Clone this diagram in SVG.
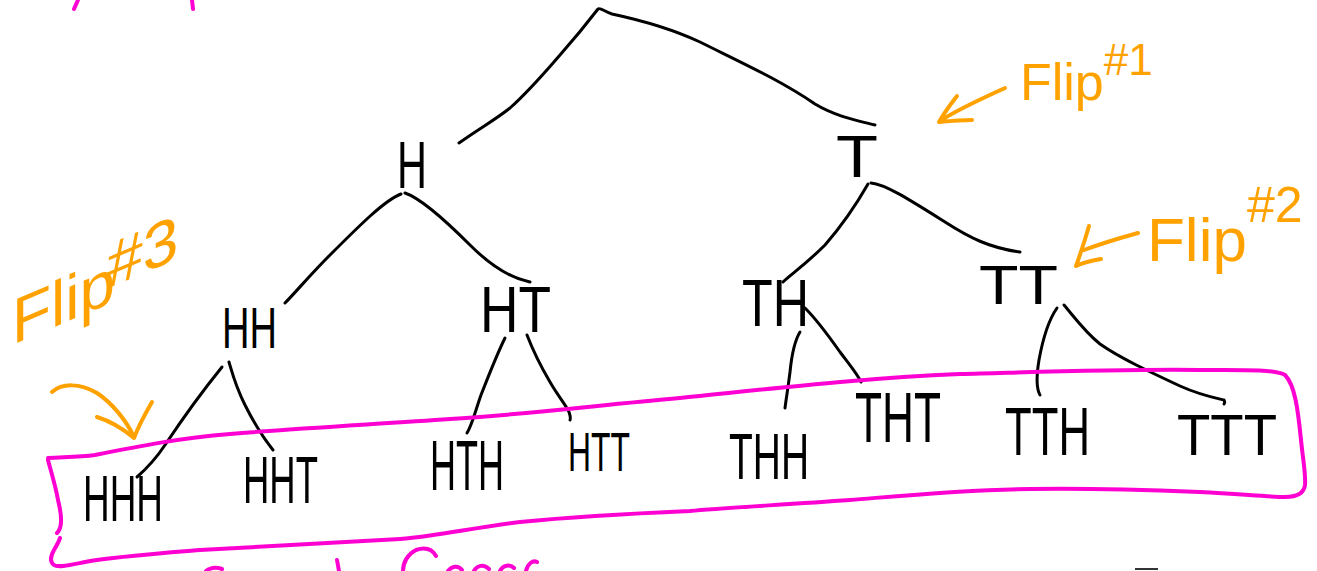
<svg xmlns="http://www.w3.org/2000/svg" width="1317" height="571" viewBox="0 0 1317 571">
<style>
.lbl{font-family:"Liberation Sans","DejaVu Sans",sans-serif;fill:#000;}
.ann{font-family:"Liberation Sans","DejaVu Sans",sans-serif;fill:#ffa200;}
.edge{fill:none;stroke:#000;stroke-width:3;stroke-linecap:round;stroke-linejoin:round;}
.mag{fill:none;stroke:#ff00d2;stroke-width:4;stroke-linecap:round;stroke-linejoin:round;}
.or{fill:none;stroke:#ffa200;stroke-width:4;stroke-linecap:round;stroke-linejoin:round;}
</style>
<rect width="1317" height="571" fill="#fff"/>

<g id="connectors">
<path class="edge" d="M459,143 C480,128 495,120 510,108 C530,90 545,72 560,55 C575,38 588,22 598,9 C600,7 605,12 612,14 C640,20 670,28 700,42 C740,62 780,80 815,104 C835,116 855,120 875,125"/>
<path class="edge" d="M401,194 C385,200 360,225 330,255 C310,275 295,293 285,303"/>
<path class="edge" d="M405,193 C420,198 445,220 470,245 C490,265 510,278 530,282"/>
<path class="edge" d="M868,184 C860,198 845,222 825,245 C805,265 790,275 783,282"/>
<path class="edge" d="M871,183 C885,184 910,200 945,222 C970,238 990,248 1020,252"/>
<path class="edge" d="M222,367 C205,388 185,415 165,445 C155,460 145,470 137,477"/>
<path class="edge" d="M229,362 C232,372 235,385 245,405 C255,425 265,440 273,450"/>
<path class="edge" d="M505,338 C498,352 490,372 481,395 C475,412 472,425 467,433"/>
<path class="edge" d="M527,335 C532,348 540,365 550,382 C558,396 566,405 569,412 C571,418 570,420 570,420"/>
<path class="edge" d="M800,332 C795,340 792,352 790,372 C788,388 786,400 785,408"/>
<path class="edge" d="M805,308 C815,318 828,335 840,352 C852,368 858,375 861,382"/>
<path class="edge" d="M1057,308 C1050,318 1043,338 1039,360 C1036,378 1036,388 1040,395"/>
<path class="edge" d="M1064,305 C1075,318 1085,332 1100,344 C1120,358 1150,372 1180,386 C1200,395 1215,398 1224,400 C1225,402 1225,403 1224,404"/>
</g>

<g id="sample-space-box">
<path class="mag" d="M48,458 C65,457 80,457 95,455 C140,446 180,438 230,434 C300,428 380,424 450,419 C520,415 600,405 680,398 C760,390 860,378 960,374 C1040,372 1120,369 1200,370 C1240,370 1275,369 1285,375 C1295,385 1298,410 1301,440 C1303,460 1306,475 1305,485 C1304,493 1298,497 1285,497 C1270,497 1240,494 1200,492 C1150,490 1080,488 1030,489 C960,490 900,496 850,500 C780,505 720,508 690,511 C620,514 570,517 520,522 C470,528 440,536 400,539 C330,543 270,546 200,550 C150,554 110,557 85,562 C70,565 58,568 54,565 C50,562 50,557 54,550 C57,545 59,541 60,538"/>
<path class="mag" d="M48,460 C52,475 56,488 58,500 C61,512 62,522 60,528 C59,531 58,532 57,533"/>
<path class="mag" d="M74,9 L78,0"/>
<path class="mag" d="M193,9 L192,0"/>
<path class="mag" d="M337,560 L339,571"/>
<path class="mag" d="M206,571 C210,568 216,567 222,569"/>
<path class="mag" d="M436,556 C432,549 425,547 416,550 C408,554 403,562 403,571"/>
<path class="mag" d="M448,571 C452,566 458,565 462,570 M474,571 C477,565 484,564 489,569 M500,571 C503,565 510,564 514,568 M526,571 C528,563 533,560 537,562"/>
</g>
<path d="M1135,569 L1158,569" stroke="#333" stroke-width="2" fill="none"/>

<g id="node-H"><text class="lbl" x="397" y="188" font-size="66" textLength="30" lengthAdjust="spacingAndGlyphs">H</text></g>
<g id="node-T"><text class="lbl" x="836" y="177" font-size="60" textLength="42" lengthAdjust="spacingAndGlyphs">T</text></g>
<g id="node-HH"><text class="lbl" x="222" y="348" font-size="58" textLength="55" lengthAdjust="spacingAndGlyphs">HH</text></g>
<g id="node-HT"><text class="lbl" x="480" y="332" font-size="64" textLength="71" lengthAdjust="spacingAndGlyphs">HT</text></g>
<g id="node-TH"><text class="lbl" x="742" y="326" font-size="66" textLength="67" lengthAdjust="spacingAndGlyphs">TH</text></g>
<g id="node-TT"><text class="lbl" x="979" y="304" font-size="56" textLength="79" lengthAdjust="spacingAndGlyphs">TT</text></g>
<g id="node-HHH"><text class="lbl" x="83" y="521" font-size="64" textLength="80" lengthAdjust="spacingAndGlyphs">HHH</text></g>
<g id="node-HHT"><text class="lbl" x="243" y="503" font-size="66" textLength="75" lengthAdjust="spacingAndGlyphs">HHT</text></g>
<g id="node-HTH"><text class="lbl" x="430" y="490" font-size="70" textLength="74" lengthAdjust="spacingAndGlyphs">HTH</text></g>
<g id="node-HTT"><text class="lbl" x="568" y="471" font-size="56" textLength="62" lengthAdjust="spacingAndGlyphs">HTT</text></g>
<g id="node-THH"><text class="lbl" x="729" y="479" font-size="64" textLength="80" lengthAdjust="spacingAndGlyphs">THH</text></g>
<g id="node-THT"><text class="lbl" x="855" y="442" font-size="70" textLength="86" lengthAdjust="spacingAndGlyphs">THT</text></g>
<g id="node-TTH"><text class="lbl" x="1005" y="455" font-size="68" textLength="85" lengthAdjust="spacingAndGlyphs">TTH</text></g>
<g id="node-TTT"><text class="lbl" x="1177" y="455" font-size="58" textLength="100" lengthAdjust="spacingAndGlyphs">TTT</text></g>

<g id="annotation-flip1">
<path class="or" d="M1005,88 C990,95 960,108 940,121 M957,96 C950,105 943,115 939,122 C950,121 962,120 972,120"/>
<text class="ann" x="1020" y="100" font-size="52">Flip<tspan font-size="44" dy="-25">#1</tspan></text>
</g>
<g id="annotation-flip2">
<path class="or" d="M1138,233 C1120,238 1100,244 1084,250 M1089,226 C1085,240 1080,255 1076,266 C1085,262 1094,260 1101,259"/>
<text class="ann" x="1147" y="261" font-size="62">Flip<tspan font-size="50" dy="-39">#2</tspan></text>
</g>
<g id="annotation-flip3">
<path class="or" d="M52,392 C62,383 80,383 97,393 C112,403 126,420 134,437 M97,417 C110,421 122,428 134,438 M152,402 C145,414 139,425 134,438"/>
<text class="ann" transform="translate(12,345) skewY(-23)" font-size="64">Flip<tspan font-size="64" dx="-8" dy="-16">#3</tspan></text>
</g>
</svg>
